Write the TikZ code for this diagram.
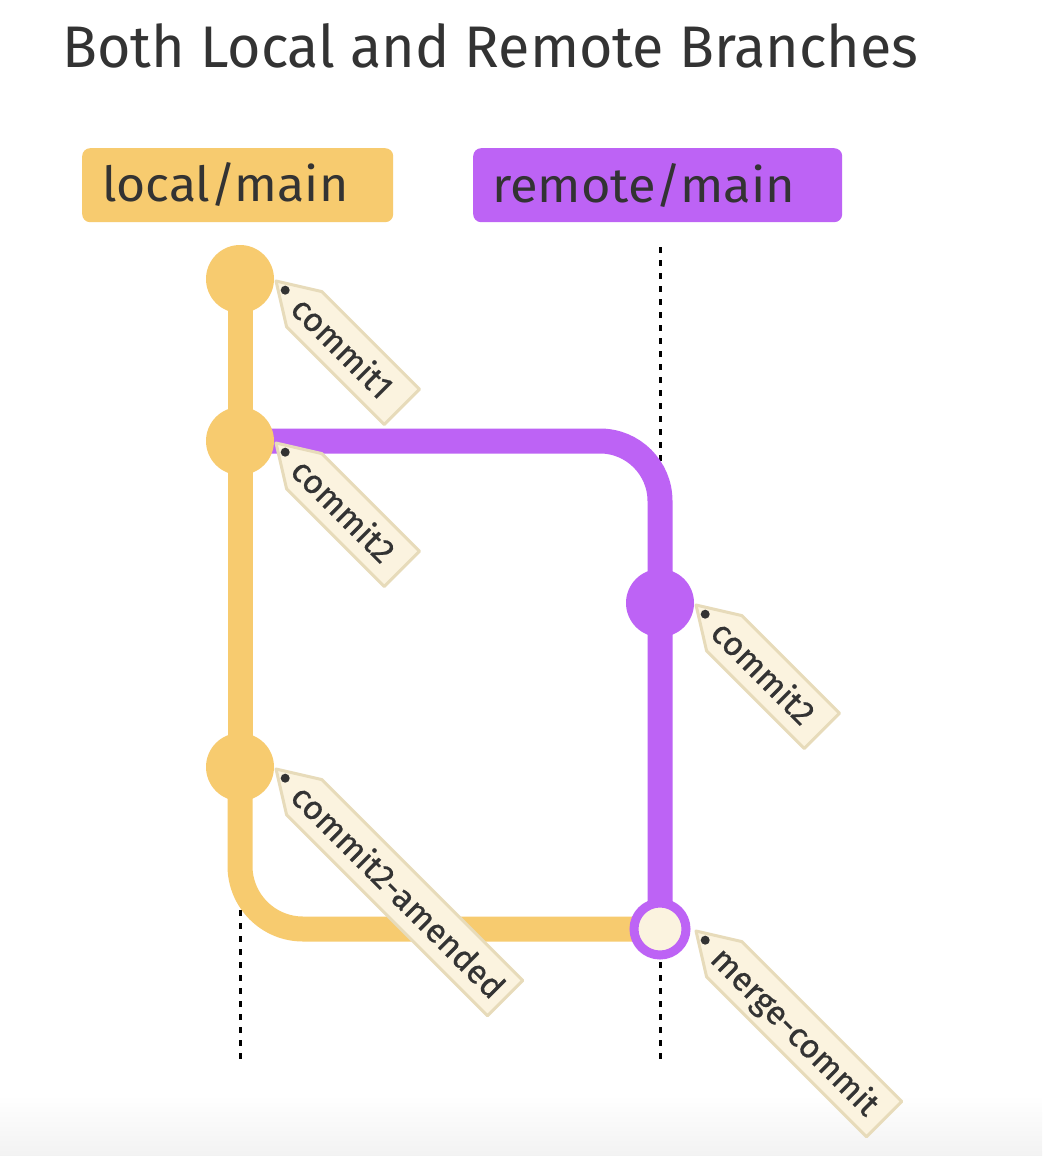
\documentclass[tikz,border=0pt]{standalone}
\usepackage{fontspec}
\usepackage{graphicx}
\setmainfont{Fira Sans}
\newfontfamily\tagfam{Fira Sans}[FakeBold=0.6]
\usetikzlibrary{calc}
\definecolor{gyel}{HTML}{F7CB6F}
\definecolor{gpur}{HTML}{BD63F5}
\definecolor{gcream}{HTML}{FBF3DF}
\definecolor{gtagline}{HTML}{E7DBBA}
\definecolor{gtext}{HTML}{333333}
\pgfdeclarelayer{bglow}
\pgfdeclarelayer{bgmid}
\pgfsetlayers{bglow,bgmid,main}
\newcommand\tagfont{\tagfam\fontsize{33.5}{40}\selectfont}
\tikzset{
  ybr/.style={draw=gyel, line width=25pt},
  pbr/.style={draw=gpur, line width=25pt},
  ycommit/.style={circle, fill=gyel, minimum size=68, inner sep=0},
  pcommit/.style={circle, fill=gpur, minimum size=68, inner sep=0},
  mcommit/.style={circle, fill=gcream, draw=gpur, line width=9pt, minimum size=52, inner sep=0},
  tagbox/.style={fill=gcream, draw=gtagline, line width=3pt, line join=round},
  tagtext/.style={inner sep=0, text=gtext, font=\tagfont},
  dotline/.style={draw=black, line width=3pt, dash pattern=on 6pt off 7pt},
  labbox/.style={rounded corners=8pt, inner sep=0, anchor=north west, minimum height=74},
  labtext/.style={anchor=base west, inner sep=0, text=gtext},
}
% #1 node name, #2 commit node, #3 tag length, #4 text
\newcommand\gittag[4]{%
  \begin{scope}[shift={($(#2)+(36,2)$)},rotate=-45]
    \draw[tagbox] (0,0) -- (40,-25) -- (#3,-25) -- (#3,25) -- (40,25) -- cycle;
    \fill[gtext] (13,0) circle[radius=4.5];
    \node[tagtext,transform shape,anchor=base west] (#1) at (30,12) {#4};
  \end{scope}}
\begin{document}
\begin{tikzpicture}[x=1pt,y=-1pt]
\useasboundingbox (0,0) rectangle (1042,1156);
\begin{pgfonlayer}{bglow}
  \fill[white] (0,0) rectangle (1042,1156);
  \shade[top color=white,bottom color=black!5] (0,1095) rectangle (1042,1156);
  \coordinate (ltop) at (240,247);
  \coordinate (lbot) at (240,1060);
  \coordinate (rtop) at (660,247);
  \coordinate (rbot) at (660,1060);
  \draw[dotline] (ltop) -- (lbot);
  \draw[dotline] (rtop) -- (rbot);
\end{pgfonlayer}

% title
\node[labtext] (title) at (62,67) {\resizebox{856pt}{44pt}{Both Local and Remote Branches}};

% branch labels
\node[labbox, fill=gyel, minimum width=311] (lbox) at (82,148) {};
\node[labtext] (ltext) at (102,201) {\resizebox{246pt}{39pt}{local/main}};
\node[labbox, fill=gpur, minimum width=369] (rbox) at (473,148) {};
\node[labtext] (rtext) at (492,202) {\resizebox{303pt}{39pt}{remote/main}};

% commits
\node[ycommit] (c1) at (240,279) {};
\node[ycommit] (c2) at (240,441) {};
\node[pcommit] (rc2) at (660,603) {};
\node[ycommit] (c3) at (240,767) {};
\node[mcommit] (m) at (660,929) {};

\begin{pgfonlayer}{bgmid}
  \draw[ybr] (c1.center) -- (c3.center);
  \draw[pbr, rounded corners=60pt] (c2.center) -- (c2.center -| m.center) -- (m.center);
  \draw[ybr, rounded corners=63pt] (c3.center) -- (c3.center |- m.center) -- (m.center);
\end{pgfonlayer}

% tags
\gittag{t1}{c1}{178}{commit1}
\gittag{t2}{c2}{178}{commit2}
\gittag{t3}{rc2}{178}{commit2}
\gittag{t4}{c3}{324}{commit2-amended}
\gittag{t5}{m}{266}{merge-commit}
\end{tikzpicture}
\end{document}
